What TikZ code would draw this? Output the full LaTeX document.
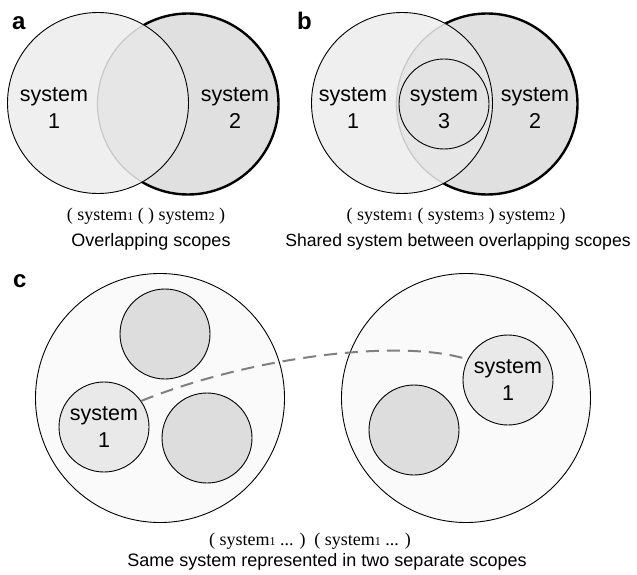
\documentclass[tikz,border=0pt]{standalone}
\usepackage{fontspec}
\setmainfont{Liberation Serif}
\setsansfont{Liberation Sans}
\definecolor{lightfill}{HTML}{EFEFEF}
\definecolor{darkfill}{HTML}{E0E0E0}
\definecolor{overlapfill}{HTML}{E6E6E6}
\definecolor{rimgray}{HTML}{C8C8C8}
\definecolor{scopefill}{HTML}{FAFAFA}
\definecolor{sysfill}{HTML}{E9E9E9}
\definecolor{otherfill}{HTML}{DDDDDD}
\definecolor{innerfill}{HTML}{E3E3E3}
\definecolor{linkgray}{HTML}{808080}
\newcommand\smalldigit[1]{{\fontsize{12}{12}\selectfont #1}}
\begin{document}
\begin{tikzpicture}[x=1pt,y=-1pt,
  ring/.style={circle, draw=black, line width=0.9pt, inner sep=0pt},
  boldring/.style={ring, line width=2.4pt},
  venn/.style={minimum size=181pt},
  small/.style={minimum size=90pt},
  big/.style={minimum size=249pt},
  fadedrim/.style={draw=rimgray, line width=1.2pt},
  systext/.style={font=\sffamily\fontsize{21.5}{27}\selectfont, align=center, inner sep=0pt},
  paneltag/.style={font=\sffamily\bfseries\fontsize{24}{24}\selectfont, inner sep=0pt, anchor=base west},
  codecap/.style={font=\fontsize{18}{18}\selectfont, inner sep=0pt, anchor=base},
  textcap/.style={font=\sffamily\fontsize{18}{18}\selectfont, inner sep=0pt, anchor=base},
  linkdash/.style={draw=linkgray, line width=2pt, dash pattern=on 13pt off 8pt}]
\useasboundingbox (0,0) rectangle (637,575);

% ---------- a: overlapping scopes ----------
\coordinate (pa1) at (98,103);
\coordinate (pa2) at (188,104);
\node[boldring, venn, fill=darkfill] (a2) at (pa2) {};
\fill[lightfill] (pa1) circle[radius=90.5pt];
\begin{scope}
  \clip (pa2) circle[radius=90.5pt];
  \fill[overlapfill] (pa1) circle[radius=90.5pt];
\end{scope}
\begin{scope}
  \clip (pa1) circle[radius=90.5pt];
  \draw[fadedrim] (pa2) circle[radius=90.5pt];
\end{scope}
\node[ring, venn] (a1) at (pa1) {};
\node[systext] (a1t) at (54,108) {system\\1};
\node[systext] (a2t) at (235,108) {system\\2};
\node[paneltag] (ta) at (12,30) {a};
\node[codecap] (capa1) at (146,220) {( system\smalldigit{1} ( ) system\smalldigit{2} )};
\node[textcap] (capa2) at (151,246) {Overlapping scopes};

% ---------- b: shared system ----------
\coordinate (pb1) at (402,103);
\coordinate (pb2) at (487,104);
\node[boldring, venn, fill=darkfill] (b2) at (pb2) {};
\fill[lightfill] (pb1) circle[radius=90.5pt];
\begin{scope}
  \clip (pb2) circle[radius=90.5pt];
  \fill[overlapfill] (pb1) circle[radius=90.5pt];
\end{scope}
\begin{scope}
  \clip (pb1) circle[radius=90.5pt];
  \draw[fadedrim] (pb2) circle[radius=90.5pt];
\end{scope}
\node[ring, venn] (b1) at (pb1) {};
\node[ring, small, fill=innerfill] (b3) at (444,104) {};
\node[systext] (b1t) at (353,108) {system\\1};
\node[systext] (b3t) at (444,108) {system\\3};
\node[systext] (b2t) at (535,108) {system\\2};
\node[paneltag] (tb) at (297,30) {b};
\node[codecap] (capb1) at (456,220) {( system\smalldigit{1} ( system\smalldigit{3} ) system\smalldigit{2} )};
\node[textcap, font=\sffamily\fontsize{17.6}{18}\selectfont] (capb2) at (458,246) {Shared system between overlapping scopes};

% ---------- c: separate scopes ----------
\node[ring, big, fill=scopefill] (cl) at (160,398) {};
\node[ring, big, fill=scopefill] (cr) at (466,398) {};
\node[ring, small, fill=otherfill] (ct) at (165,334) {};
\node[ring, small, fill=sysfill, systext] (c1s) at (104,427) {system\\1};
\node[ring, small, fill=otherfill] (cb) at (207,438) {};
\node[ring, small, fill=sysfill, systext] (c2s) at (508,380) {system\\1};
\node[ring, small, fill=otherfill] (cd) at (414,430) {};
\draw[linkdash] (c1s.35) .. controls (250,357) and (400,338) .. (c2s.153);
\node[paneltag] (tc) at (13,287) {c};
\node[codecap] (capc1) at (310,545) {( system\smalldigit{1} ... )\ \ ( system\smalldigit{1} ... )};
\node[textcap] (capc2) at (327,566) {Same system represented in two separate scopes};
\end{tikzpicture}
\end{document}
